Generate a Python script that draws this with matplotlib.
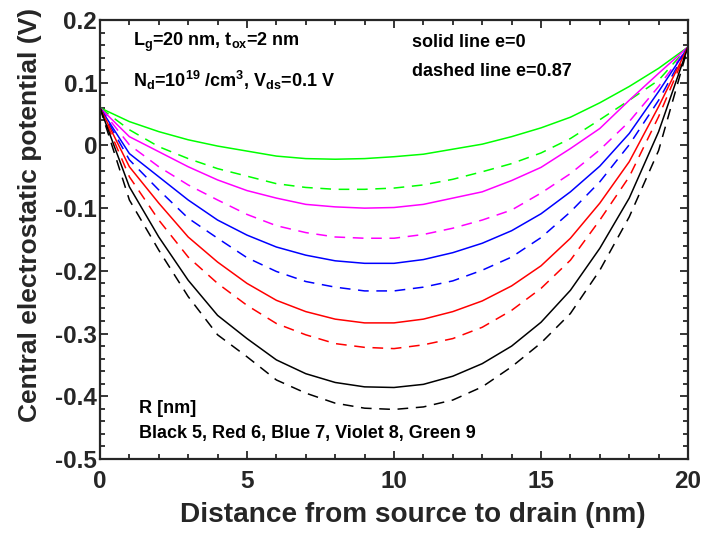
import numpy as np
import matplotlib.pyplot as plt
from matplotlib.ticker import MultipleLocator

plt.rcParams['font.family'] = ['Liberation Sans', 'DejaVu Sans']
plt.rcParams['font.weight'] = 'bold'
plt.rcParams['axes.labelweight'] = 'bold'
plt.rcParams['mathtext.fontset'] = 'custom'
plt.rcParams['mathtext.rm'] = 'Liberation Sans:bold'
plt.rcParams['mathtext.it'] = 'Liberation Sans:bold'
plt.rcParams['mathtext.bf'] = 'Liberation Sans:bold'
plt.rcParams['mathtext.default'] = 'regular'

# position along the channel (nm)
x = np.arange(0, 21)

# central potential (V), R = 5..9 nm; solid e=0, dashed e=0.87
black_solid = [0.060, -0.066, -0.146, -0.215, -0.271, -0.308, -0.342, -0.364, -0.378, -0.385, -0.386,
               -0.381, -0.368, -0.348, -0.320, -0.282, -0.231, -0.164, -0.084, 0.022, 0.157]
black_dash = [0.060, -0.087, -0.167, -0.241, -0.302, -0.337, -0.374, -0.395, -0.411, -0.419, -0.421,
              -0.417, -0.406, -0.385, -0.353, -0.315, -0.268, -0.199, -0.114, -0.008, 0.157]
red_solid = [0.060, -0.034, -0.092, -0.146, -0.186, -0.220, -0.247, -0.265, -0.277, -0.283, -0.283,
             -0.277, -0.265, -0.248, -0.224, -0.192, -0.148, -0.092, -0.026, 0.062, 0.157]
red_dash = [0.060, -0.050, -0.119, -0.178, -0.220, -0.255, -0.284, -0.302, -0.316, -0.322, -0.324,
            -0.318, -0.308, -0.290, -0.263, -0.228, -0.183, -0.119, -0.050, 0.046, 0.157]
blue_solid = [0.060, -0.013, -0.050, -0.087, -0.119, -0.143, -0.162, -0.175, -0.184, -0.188, -0.188,
              -0.182, -0.171, -0.156, -0.136, -0.109, -0.074, -0.033, 0.019, 0.086, 0.157]
blue_dash = [0.060, -0.023, -0.071, -0.116, -0.148, -0.179, -0.201, -0.217, -0.226, -0.232, -0.232,
             -0.226, -0.216, -0.199, -0.178, -0.147, -0.106, -0.058, 0.001, 0.072, 0.157]
violet_solid = [0.060, 0.014, -0.010, -0.034, -0.055, -0.072, -0.084, -0.094, -0.098, -0.100, -0.099,
                -0.094, -0.084, -0.074, -0.056, -0.035, -0.005, 0.027, 0.072, 0.115, 0.157]
violet_dash = [0.060, 0.001, -0.034, -0.063, -0.087, -0.110, -0.128, -0.139, -0.146, -0.148, -0.148,
               -0.142, -0.132, -0.119, -0.103, -0.076, -0.045, -0.007, 0.038, 0.094, 0.157]
green_solid = [0.060, 0.038, 0.022, 0.009, -0.001, -0.009, -0.017, -0.021, -0.022, -0.021, -0.018,
               -0.014, -0.006, 0.002, 0.014, 0.028, 0.045, 0.068, 0.094, 0.123, 0.157]
green_dash = [0.060, 0.025, -0.002, -0.021, -0.037, -0.049, -0.061, -0.067, -0.070, -0.070, -0.068,
              -0.063, -0.054, -0.042, -0.029, -0.012, 0.011, 0.041, 0.072, 0.104, 0.157]

series = [
    ('#00ff00', green_solid, green_dash),
    ('#ff00ff', violet_solid, violet_dash),
    ('#0000ff', blue_solid, blue_dash),
    ('#ff0000', red_solid, red_dash),
    ('#000000', black_solid, black_dash),
]

ink = '#262626'

fig = plt.figure(figsize=(7.08, 5.35), dpi=100)
ax = fig.add_axes([0.1412, 0.1421, 0.8306, 0.8205])

for color, solid, dash in series:
    ax.plot(x, solid, color=color, lw=1.1)
    ax.plot(x, dash, color=color, lw=1.1, dashes=(7, 5))

ax.set_xlim(0, 20)
ax.set_ylim(-0.5, 0.2)
ax.xaxis.set_major_locator(MultipleLocator(5))
ax.xaxis.set_minor_locator(MultipleLocator(1))
ax.yaxis.set_minor_locator(MultipleLocator(0.02))
ax.set_yticks(np.arange(-0.5, 0.21, 0.1))
ax.set_yticklabels(['-0.5', '-0.4', '-0.3', '-0.2', '-0.1', '0', '0.1', '0.2'])
ax.tick_params(which='both', direction='in', top=True, right=True, width=1.3,
               labelsize=17.5, labelcolor=ink, color=ink)
ax.tick_params(axis='x', pad=8)
ax.tick_params(axis='y', pad=2)
ax.tick_params(which='major', length=6)
ax.tick_params(which='minor', length=3.5)
for lbl in ax.get_xticklabels() + ax.get_yticklabels():
    lbl.set_fontweight('bold')
for s in ax.spines.values():
    s.set_linewidth(1.6)
    s.set_color(ink)

ax.set_xlabel('Distance from source to drain (nm)', fontsize=20.2, color=ink)
ax.set_ylabel('Central electrostatic potential (V)', fontsize=19, color=ink)
ax.xaxis.set_label_coords(0.532, -0.098)
ax.yaxis.set_label_coords(-0.099, 0.556)

tk = dict(transform=ax.transAxes, fontsize=13, va='center', ha='left')
ax.text(0.056, 0.948, r'L$_{g}$=20 nm, t$_{ox}$=2 nm', **tk)
ax.text(0.056, 0.863, r'N$_{d}$=10$^{19}$ /cm$^{3}$, V$_{ds}$=0.1 V', **tk)
ax.text(0.531, 0.948, 'solid line e=0', **tk)
ax.text(0.531, 0.882, 'dashed line e=0.87', **tk)
ax.text(0.066, 0.116, 'R [nm]', **tk)
ax.text(0.066, 0.059, 'Black 5, Red 6, Blue 7, Violet 8, Green 9', **tk)

fig.savefig('out.png', dpi=100)
